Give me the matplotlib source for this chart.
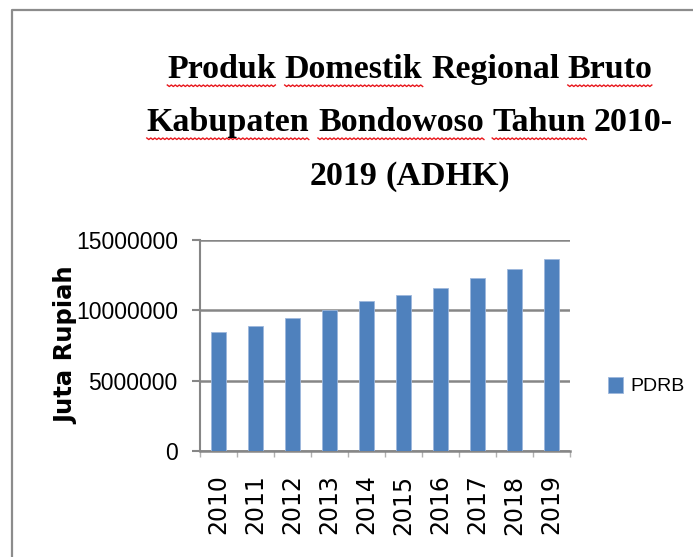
import matplotlib
matplotlib.use("Agg")
from matplotlib import pyplot as plt
from matplotlib.lines import Line2D
import numpy as np

years = ["2010", "2011", "2012", "2013", "2014", "2015", "2016", "2017", "2018", "2019"]
pdrb = [8457000, 8907000, 9457000, 10050000, 10670000, 11100000, 11620000, 12310000, 12910000, 13670000]

title_lines = [
    [("Produk", True), ("Domestik", True), ("Regional", False), ("Bruto", True)],
    [("Kabupaten", True), ("Bondowoso", True), ("Tahun", True), ("2010-", False)],
    [("2019", False), ("(ADHK)", False)],
]

W, H = 693, 557
fig = plt.figure(figsize=(W / 100, H / 100), dpi=100)
grey = "#868686"
blue = "#4F81BD"
sans = ["Liberation Sans", "DejaVu Sans"]

# frame line of the chart area
fig.add_artist(Line2D([12 / W, 12 / W, 1], [0, 1 - 10 / H, 1 - 10 / H],
                      transform=fig.transFigure, color="#8c8c8c", lw=1.6))

ax = fig.add_axes([200 / W, (H - 451) / H, 370 / W, 211 / H])
x = np.arange(len(years))
ax.bar(x, pdrb, width=0.4, color=blue, edgecolor="#9db7dc", linewidth=0.6,
       label="PDRB", zorder=3)
ax.set_xlim(-0.5, len(years) - 0.5)
ax.set_ylim(0, 15000000)
ax.set_yticks([0, 5000000, 10000000, 15000000])
ax.set_yticklabels(["0", "5000000", "10000000", "15000000"], family=sans, fontsize=16.5)
ax.set_xticks(x)
ax.set_xticklabels(years, rotation=90, fontsize=17)
ax.set_xticks(np.arange(len(years) + 1) - 0.5, minor=True)
ax.tick_params(axis="x", which="major", length=0, pad=17)
ax.tick_params(axis="x", which="minor", length=4, color="#b0b0b0", width=1.0)
ax.tick_params(axis="y", length=6, color=grey, width=1.5, pad=10)
ax.grid(axis="y", color=grey, lw=1.8, zorder=0)
for s in ["top", "right"]:
    ax.spines[s].set_visible(False)
ax.spines["left"].set_color(grey)
ax.spines["left"].set_linewidth(1.5)
ax.spines["bottom"].set_color(grey)
ax.spines["bottom"].set_linewidth(1.8)
ax.set_ylabel("Juta Rupiah", fontsize=17.5, fontweight="bold")
ax.yaxis.set_label_coords(-0.33, 0.5)

ax.legend(loc="center left", bbox_to_anchor=(608 / W, 1 - 386 / H),
          bbox_transform=fig.transFigure, frameon=False, borderpad=0,
          borderaxespad=0, handlelength=0.75, handleheight=0.9,
          handletextpad=0.4, prop={"family": sans, "size": 14})

# title, word by word so the spell-check squiggles can sit under the words
renderer = fig.canvas.get_renderer()
tkw = dict(family="Liberation Serif", fontweight="bold", fontsize=24.5)


def width_px(s):
    t = fig.text(0, 0, s, **tkw)
    w = t.get_window_extent(renderer).width
    t.remove()
    return w


space = width_px("a a") - width_px("aa")
cx = 410
baselines = [78, 131, 185]
for words, base in zip(title_lines, baselines):
    widths = [width_px(w) for w, _ in words]
    total = sum(widths) + space * (len(words) - 1)
    left = cx - total / 2
    for (word, squiggle), w in zip(words, widths):
        fig.text(left / W, 1 - base / H, word, ha="left", va="baseline", **tkw)
        if squiggle:
            xs = np.arange(left, left + w + 1, 2.0)
            ys = base + 7 + np.where(np.arange(len(xs)) % 2 == 0, 0, 1.5)
            fig.add_artist(Line2D(xs / W, 1 - ys / H, transform=fig.transFigure,
                                  color="#e8161b", lw=1.0))
        left += w + space

fig.savefig("out.png", dpi=100)
